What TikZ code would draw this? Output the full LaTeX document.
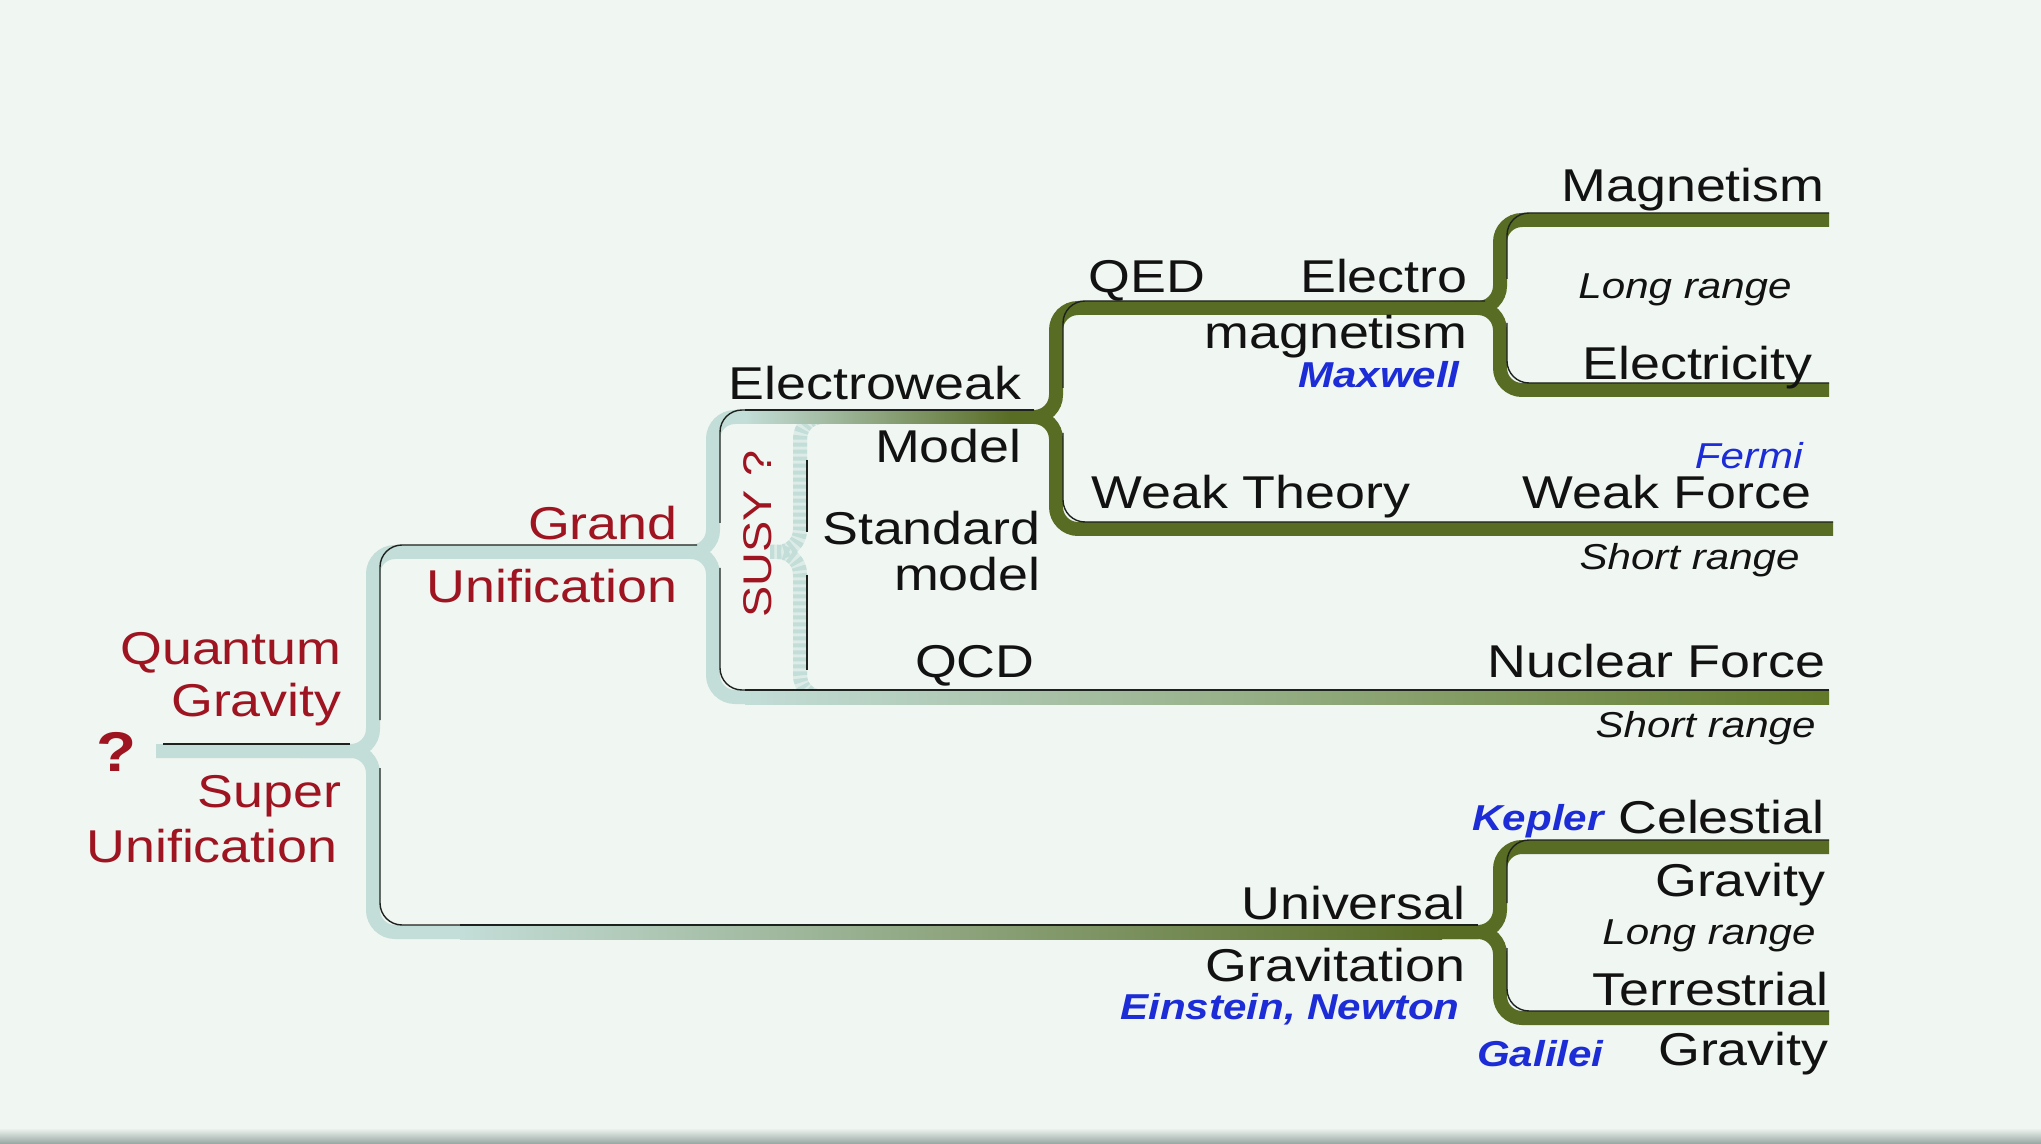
\documentclass[tikz,border=0pt]{standalone}
\usepackage{fontspec}
\setmainfont{Liberation Sans}[FakeStretch=1.17]
\definecolor{bg}{RGB}{240,246,242}
\definecolor{lite}{RGB}{195,221,216}
\definecolor{olive}{RGB}{88,108,36}
\definecolor{olive2}{RGB}{98,122,40}
\definecolor{edge}{RGB}{30,34,30}
\definecolor{redt}{RGB}{158,20,32}
\definecolor{bluet}{RGB}{28,44,214}
\definecolor{txt}{RGB}{18,18,18}
\definecolor{rule}{RGB}{150,165,160}
\tikzset{
  band/.style={line width=7pt, rounded corners=11pt},
  lband/.style={band, draw=lite},
  gband/.style={band, draw=olive},
  rim/.style={draw=edge, line width=0.7pt, rounded corners=11pt},
  big/.style={font=\fontsize{23}{26}\selectfont, text=txt, inner sep=0pt},
  redbig/.style={big, text=redt},
  rng/.style={font=\fontsize{18}{20}\selectfont\itshape, text=txt, inner sep=0pt},
  who/.style={font=\fontsize{18}{20}\selectfont\bfseries\itshape, text=bluet, inner sep=0pt},
}
\begin{document}
\begin{tikzpicture}[x=0.5pt, y=-0.5pt]
\useasboundingbox (0,0) rectangle (2041,1144);
\fill[bg] (0,0) rectangle (2041,1144);
\shade[top color=bg, bottom color=rule] (0,1128) rectangle (2041,1144);

% junction coordinates
\coordinate (root) at (156,751);
\coordinate (qg) at (373,751);
\coordinate (gu) at (713,552);
\coordinate (ss) at (800,552);
\coordinate (ew) at (1056,417);
\coordinate (em) at (1500,308);
\coordinate (gr) at (1500,932);

% SUSY dotted brace
\draw[band, draw=lite!40!bg] (770,552) -- (ss) -- (800,417) -- (840,417);
\draw[band, draw=lite!40!bg] (770,552) -- (ss) -- (800,697) -- (840,697);
\draw[band, draw=lite, dash pattern=on 2pt off 1.5pt] (770,552) -- (ss) -- (800,417) -- (840,417);
\draw[band, draw=lite, dash pattern=on 2pt off 1.5pt] (770,552) -- (ss) -- (800,697) -- (840,697);
\draw[rim] (807,460) -- (807,532);
\draw[rim] (807,575) -- (807,670);

% light tree
\draw[lband] (root) -- (qg) -- (373,552) -- (gu) -- (713,417) -- (746,417);
\draw[lband] (300,751) -- (qg) -- (373,932) -- (462,932);
\draw[lband] (650,552) -- (gu) -- (713,697) -- (746,697);
\shade[left color=lite, right color=olive] (745,410) rectangle (1012,424);
\shade[left color=lite, right color=olive2] (745,690) rectangle (1829,704);
\shade[left color=lite, right color=olive] (460,925) rectangle (1442,939);

% green tree
\draw[gband] (1010,417) -- (ew) -- (1056,308) -- (em) -- (1500,220) -- (1829,220);
\draw[gband] (1010,417) -- (ew) -- (1056,529) -- (1833,529);
\draw[gband] (1450,308) -- (em) -- (1500,390) -- (1829,390);
\draw[gband] (1440,932) -- (gr) -- (1500,847) -- (1829,847);
\draw[gband] (1440,932) -- (gr) -- (1500,1018) -- (1829,1018);

% rims (dark edges): top of horizontals, right of verticals
\draw[rim] (745,410) -- (1034,410);
\draw[rim] (745,690) -- (1829,690);
\draw[rim] (460,925) -- (1478,925);
\begin{scope}[shift={(7,-7)}]
\draw[rim] (156,751) -- (343,751);
\draw[rim] (373,727) -- (373,552) -- (690,552);
\draw[rim] (373,775) -- (373,932) -- (462,932);
\draw[rim] (713,530) -- (713,417) -- (746,417);
\draw[rim] (713,575) -- (713,697) -- (746,697);
\draw[rim] (1056,395) -- (1056,308) -- (1478,308);
\draw[rim] (1056,440) -- (1056,529) -- (1826,529);
\draw[rim] (1500,286) -- (1500,220) -- (1822,220);
\draw[rim] (1500,330) -- (1500,390) -- (1822,390);
\draw[rim] (1500,910) -- (1500,847) -- (1822,847);
\draw[rim] (1500,955) -- (1500,1018) -- (1822,1018);
\end{scope}

% left labels
\node[font=\fontsize{28}{30}\selectfont\bfseries, text=redt, inner sep=0pt] (qmark) at (117,752) {?};
\node[redbig, anchor=base east] (quantum) at (342,664) {Quantum};
\node[redbig, anchor=base east] (gravityq) at (342,716) {Gravity};
\node[redbig, anchor=base east] (super) at (342,807) {Super};
\node[redbig, anchor=base east] (unifs) at (338,862) {Unification};
\node[redbig, anchor=base east] (grand) at (678,539) {Grand};
\node[redbig, anchor=base east] (unifg) at (678,603) {Unification};
\node[font=\fontsize{20}{22}\selectfont, text=redt, inner sep=0pt, rotate=90] (susy) at (758,534) {SUSY ?};

% middle labels
\node[big, anchor=base east] (eweak) at (1022,400) {Electroweak};
\node[big, anchor=base east] (model) at (1022,463) {Model};
\node[big, anchor=base east] (standard) at (1041,545) {Standard};
\node[big, anchor=base east] (smodel) at (1041,590) {model};
\node[big, anchor=base east] (qcd) at (1035,677) {QCD};
\node[big, anchor=base west] (qed) at (1088,293) {QED};
\node[big, anchor=base east] (electro) at (1468,293) {Electro};
\node[big, anchor=base east] (magn) at (1468,349) {magnetism};
\node[who, anchor=base east] (maxwell) at (1460,388) {Maxwell};
\node[big, anchor=base west] (weakth) at (1091,509) {Weak Theory};
\node[big, anchor=base east] (univ) at (1466,919) {Universal};
\node[big, anchor=base east] (gravit) at (1466,981) {Gravitation};
\node[who, anchor=base east] (einstein) at (1460,1019) {Einstein, Newton};

% right labels
\node[big, anchor=base east] (magnetism) at (1825,202) {Magnetism};
\node[rng, anchor=base east] (long1) at (1792,299) {Long range};
\node[big, anchor=base east] (electricity) at (1813,380) {Electricity};
\node[font=\fontsize{18}{20}\selectfont\itshape, text=bluet, inner sep=0pt, anchor=base east] (fermi) at (1803,469) {Fermi};
\node[big, anchor=base east] (weakf) at (1812,509) {Weak Force};
\node[rng, anchor=base east] (short1) at (1800,569) {Short range};
\node[big, anchor=base east] (nuclear) at (1826,677) {Nuclear Force};
\node[rng, anchor=base east] (short2) at (1816,737) {Short range};
\node[who, anchor=base east] (kepler) at (1604,830) {Kepler};
\node[big, anchor=base east] (celestial) at (1825,833) {Celestial};
\node[big, anchor=base east] (gravc) at (1826,896) {Gravity};
\node[rng, anchor=base east] (long2) at (1816,944) {Long range};
\node[big, anchor=base east] (terrestrial) at (1829,1005) {Terrestrial};
\node[who, anchor=base east] (galilei) at (1604,1066) {Galilei};
\node[big, anchor=base east] (gravt) at (1829,1065) {Gravity};
\end{tikzpicture}
\end{document}
